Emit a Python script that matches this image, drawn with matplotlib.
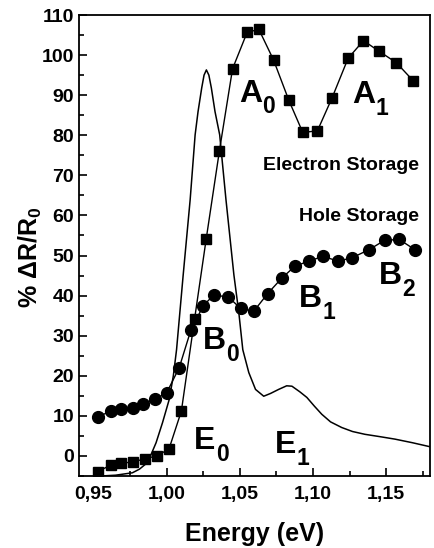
import numpy as np
import matplotlib.pyplot as plt
from matplotlib.ticker import MultipleLocator, FuncFormatter

plt.rcParams['font.family'] = ['Liberation Sans', 'DejaVu Sans']
plt.rcParams['font.weight'] = 'bold'
plt.rcParams['mathtext.fontset'] = 'custom'
plt.rcParams['mathtext.rm'] = 'Liberation Sans:bold'
plt.rcParams['mathtext.bf'] = 'Liberation Sans:bold'
plt.rcParams['mathtext.it'] = 'Liberation Sans:bold'
plt.rcParams['mathtext.default'] = 'bf'

# electron storage (squares)
e_x = [0.953, 0.962, 0.969, 0.977, 0.985, 0.993, 1.0015, 1.010, 1.019, 1.027,
       1.036, 1.045, 1.055, 1.063, 1.073, 1.0835, 1.093, 1.103, 1.113, 1.124,
       1.1345, 1.145, 1.157, 1.1685]
e_y = [-3.9, -2.2, -1.8, -1.5, -0.7, 0.0, 1.7, 11.2, 34.1, 54.2,
       76.1, 96.6, 105.7, 106.4, 98.8, 88.7, 80.7, 81.1, 89.3, 99.2,
       103.6, 101.0, 98.1, 93.6]

# hole storage (circles)
h_x = [0.953, 0.962, 0.969, 0.977, 0.984, 0.992, 1.000, 1.0085, 1.0165, 1.025,
       1.032, 1.042, 1.0505, 1.0595, 1.069, 1.0785, 1.0875, 1.097, 1.107, 1.117,
       1.1265, 1.1385, 1.149, 1.159, 1.1695]
h_y = [9.8, 11.2, 11.6, 11.9, 12.9, 14.1, 15.8, 22.0, 31.4, 37.5,
       40.1, 39.7, 36.8, 36.1, 40.5, 44.3, 47.3, 48.6, 49.8, 48.6,
       49.4, 51.5, 53.8, 54.0, 51.5]

# solid curve (no markers)
c_x = [0.955, 0.965, 0.9765, 0.9813, 0.987, 0.9927, 0.9971, 1.0017, 1.0045, 1.0067,
       1.0112, 1.016, 1.0194, 1.0214, 1.0239, 1.0255, 1.0271, 1.0288, 1.0305, 1.0330,
       1.0362, 1.0405, 1.0459, 1.0493, 1.052, 1.0561, 1.0607, 1.0663, 1.071, 1.0765,
       1.082, 1.0856, 1.091, 1.0958, 1.101, 1.106, 1.112, 1.1196, 1.127, 1.1355,
       1.146, 1.156, 1.168, 1.18]
c_y = [-5.0, -4.8, -4.2, -3.3, -1.6, 3.3, 8.3, 14.1, 20.0, 26.5,
       45.0, 63.9, 80.1, 85.9, 91.8, 95.0, 96.3, 95.0, 91.8, 85.9,
       80.1, 63.9, 45.2, 35.7, 26.5, 20.8, 16.6, 14.9, 15.6, 16.6,
       17.5, 17.4, 16.0, 14.6, 12.4, 10.4, 8.5, 7.1, 6.1, 5.4,
       4.8, 4.2, 3.3, 2.3]

fig = plt.figure(figsize=(4.34, 5.48), dpi=100)
ax = fig.add_axes([79 / 434, 1 - 476 / 548, (430 - 79) / 434, (476 - 15) / 548])

ax.plot(c_x, c_y, color='black', lw=1.1)
ax.plot(e_x, e_y, color='black', lw=1.0, marker='s', ms=7.5)
ax.plot(h_x, h_y, color='black', lw=1.0, marker='o', ms=8.5)

ax.set_xlim(0.94, 1.18)
ax.set_ylim(-5, 110)
ax.xaxis.set_major_locator(MultipleLocator(0.05))
ax.xaxis.set_minor_locator(MultipleLocator(0.025))
ax.yaxis.set_major_locator(MultipleLocator(10))
ax.yaxis.set_minor_locator(MultipleLocator(5))
ax.xaxis.set_major_formatter(FuncFormatter(lambda v, p: ('%.2f' % v).replace('.', ',')))
ax.tick_params(which='both', direction='in', top=False, right=False, labelsize=14, width=1.2)
ax.tick_params(which='major', length=6)
ax.tick_params(which='minor', length=3.5)
ax.tick_params(axis='x', pad=7)
for s in ax.spines.values():
    s.set_linewidth(1.3)

ax.set_xlabel('Energy (eV)', fontsize=18, fontweight='bold', labelpad=14)
ax.set_ylabel('% ΔR/R$_0$', fontsize=18, fontweight='bold')
ax.yaxis.set_label_coords(-0.10, 0.475)

# peak labels: big letter with a large subscript digit
widths = {'A': 0.722, 'B': 0.722, 'E': 0.667}


def peak_label(x, y, letter, sub):
    ax.text(x, y, letter, fontsize=23)
    ax.annotate(sub, (x, y), xytext=(widths[letter] * 23 + 0.5, -8.5),
                textcoords='offset points', fontsize=16.5)


peak_label(1.0493, 88.4, 'A', '0')
peak_label(1.1267, 88.0, 'A', '1')
peak_label(1.0244, 26.6, 'B', '0')
peak_label(1.0904, 37.2, 'B', '1')
peak_label(1.1448, 42.8, 'B', '2')
peak_label(1.0187, 1.7, 'E', '0')
peak_label(1.0738, 0.8, 'E', '1')

ax.text(1.1724, 71.4, 'Electron Storage', fontsize=14, ha='right')
ax.text(1.1724, 58.5, 'Hole Storage', fontsize=14, ha='right')

fig.savefig('out.png', dpi=100)
